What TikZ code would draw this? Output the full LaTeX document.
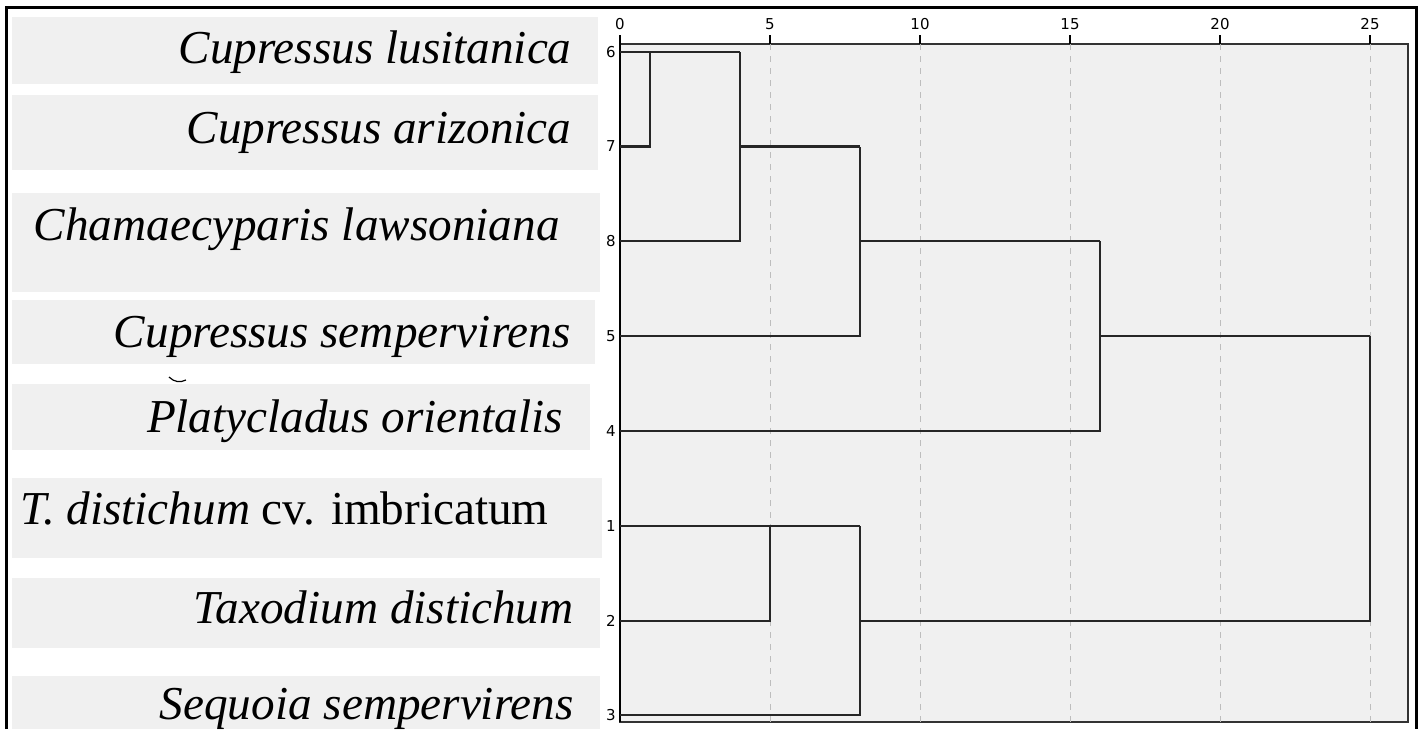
\documentclass[tikz,border=0pt]{standalone}
\usepackage{fontspec}
\setmainfont{Liberation Serif}
\newfontfamily\spssfont{DejaVu Sans}
\definecolor{panel}{HTML}{F0F0F0}
\definecolor{gridgray}{HTML}{BDBDBD}
\begin{document}
\begin{tikzpicture}[x=0.5pt,y=-0.5pt,
  link/.style={line width=1.1pt,black!85},
  taxon/.style={anchor=base east,inner sep=0pt,font=\fontsize{23.6}{27}\selectfont\itshape},
  leafnum/.style={anchor=east,inner sep=0pt,font=\spssfont\fontsize{7.5}{8}\selectfont},
  ticknum/.style={inner sep=0pt,font=\spssfont\fontsize{7.5}{8}\selectfont}]
   \useasboundingbox (0,0) rectangle (1423,729);
   \draw[line width=1.5pt] (6,729) |- (1416,7) -- (1416,729);
   \fill[panel] (12,17) rectangle (598,84);
   \fill[panel] (12,95) rectangle (598,170);
   \fill[panel] (12,193) rectangle (600,292);
   \fill[panel] (12,300) rectangle (595,364);
   \fill[panel] (12,384) rectangle (590,450);
   \fill[panel] (12,478) rectangle (602,558);
   \fill[panel] (12,578) rectangle (600,648);
   \fill[panel] (12,676) rectangle (600,729);
   \node[taxon] (cl) at (572,63) {Cupressus lusitanica};
   \node[taxon] (ca) at (572,143) {Cupressus arizonica};
   \node[taxon] (ch) at (560,240) {Chamaecyparis lawsoniana};
   \node[taxon] (cs) at (571,347) {Cupressus sempervirens};
   \node[taxon] (po) at (563,432) {Platycladus orientalis};
   \node[taxon] (ti) at (549,524) {T. distichum {\upshape cv. imbricatum}};
   \node[taxon] (td) at (574,623) {Taxodium distichum};
   \node[taxon] (ss) at (574,719) {Sequoia sempervirens};
   \draw[line width=0.6pt] (169,377) .. controls (174,382) and (180,383) .. (186,380);
   \filldraw[fill=panel,draw=black!80,line width=0.8pt] (620,44) rectangle (1408,722);
   \foreach \v in {5,10,...,25}
     \draw[gridgray,dashed,line width=0.5pt] ({620+30*\v},44) -- ({620+30*\v},722);
   \foreach \v in {0,5,...,25} {
     \draw[line width=1pt] ({620+30*\v},35) -- ({620+30*\v},44);
     \node[ticknum] (t\v) at ({620+30*\v},24) {\v};
   }
   \draw[line width=1.1pt] (620,44) -- (620,722);
   \foreach \n/\y in {6/52,7/146.5,8/241,5/336,4/431,1/526,2/621,3/715} {
     \coordinate (l\n) at (620,\y);
     \node[leafnum] (n\n) at (616,\y) {\n};
   }
   \coordinate (c67) at (650,52);
   \coordinate (c678) at (740,52);
   \coordinate (c5) at (860,146.5);
   \coordinate (c4) at (1100,241);
   \coordinate (root) at (1370,336);
   \coordinate (c12) at (770,526);
   \coordinate (c123) at (860,526);
   \draw[link] (l6) -- (c678);
   \draw[link] (l7) -| (c67);
   \draw[link] (l8) -| (c678);
   \draw[link] (c678 |- l7) -- (c5);
   \draw[link] (l5) -| (c5);
   \draw[link] (c5 |- l8) -- (c4);
   \draw[link] (l4) -| (c4);
   \draw[link] (c4 |- l5) -- (root);
   \draw[link] (l1) -- (c123);
   \draw[link] (l2) -| (c12);
   \draw[link] (l3) -| (c123);
   \draw[link] (c123 |- l2) -| (root);
\end{tikzpicture}
\end{document}
